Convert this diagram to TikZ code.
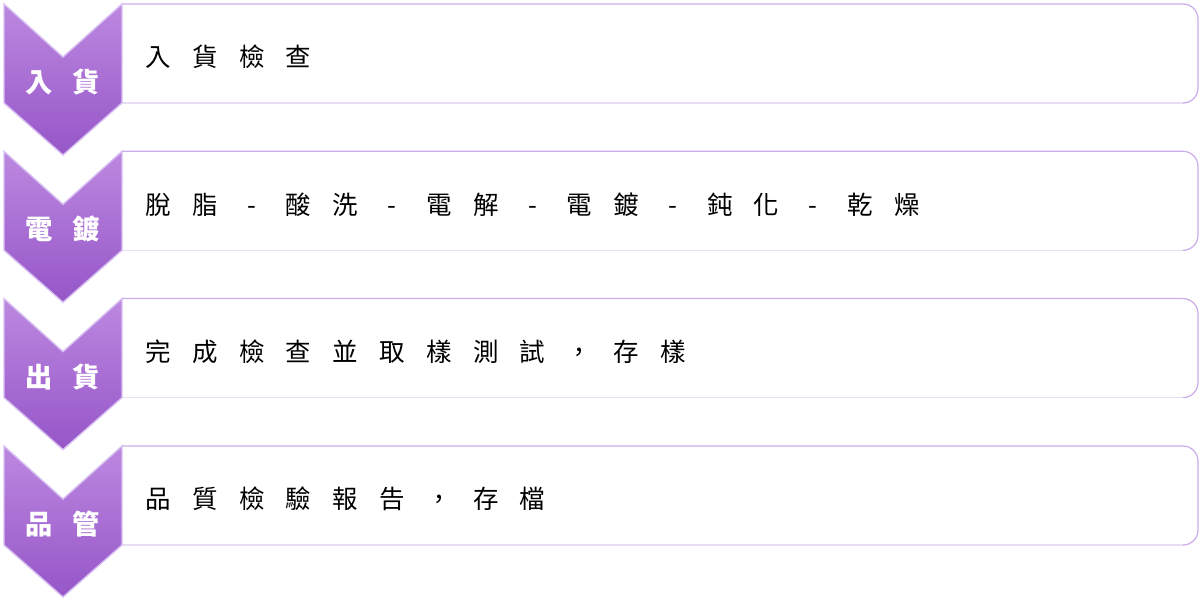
\documentclass[tikz,border=0pt]{standalone}
\usepackage{fontspec}
\usepackage{xcolor}
\usepackage{tikz}
\usetikzlibrary{positioning}
\newfontfamily\cjk{Noto Sans CJK TC}
\definecolor{chevrontop}{RGB}{188,136,224}
\definecolor{chevronbottom}{RGB}{150,86,200}
\definecolor{chevronedge}{RGB}{216,192,242}
\definecolor{panelline}{RGB}{204,172,234}
\definecolor{panelfaint}{RGB}{232,222,244}

% one character per cell, fixed pitch
\newcommand{\cellrow}[1]{\foreach \ch in {#1}{\makebox[0.936cm][c]{\ch}}}

\begin{document}
\begin{tikzpicture}[x=0.02cm, y=-0.02cm,
    chevron/.style={top color=chevrontop, bottom color=chevronbottom, draw=chevronedge, line width=0.8pt},
    panel/.style={draw=panelline, line width=0.7pt, rounded corners=0.3cm},
    panelbase/.style={draw=panelfaint, line width=0.7pt},
    steplabel/.style={white, inner sep=0pt, font=\cjk\bfseries\fontsize{15.5pt}{18pt}\selectfont},
    steptext/.style={black, inner sep=0pt, anchor=west, font=\cjk\fontsize{14.5pt}{17pt}\selectfont}]
    
    % Page frame
    \useasboundingbox (0,0) rectangle (1200,600);
    
    % Row 1: incoming goods
    \draw[panelbase] (122,103) -- (1184,103);
    \draw[panel] (122,4) -- (1198,4) -- (1198,103) -- (1183,103);
    \path[chevron] (4,4) -- (63,57) -- (122,4) -- (122,103) -- (63,155) -- (4,103) -- cycle;
    \node[steplabel] (label1) at (63,82) {\cellrow{入,貨}};
    \node[steptext] (text1) at (134.6,57) {\cellrow{入,貨,檢,查}};
    
    % Row 2: plating
    \draw[panelbase] (122,250.3) -- (1184,250.3);
    \draw[panel] (122,151.3) -- (1198,151.3) -- (1198,250.3) -- (1183,250.3);
    \path[chevron] (4,151.3) -- (63,204.3) -- (122,151.3) -- (122,250.3) -- (63,302.3) -- (4,250.3) -- cycle;
    \node[steplabel] (label2) at (63,229.3) {\cellrow{電,鍍}};
    \node[steptext] (text2) at (134.6,204.3) {\cellrow{脫,脂,-,酸,洗,-,電,解,-,電,鍍,-,鈍,化,-,乾,燥}};
    
    % Row 3: shipping
    \draw[panelbase] (122,397.6) -- (1184,397.6);
    \draw[panel] (122,298.6) -- (1198,298.6) -- (1198,397.6) -- (1183,397.6);
    \path[chevron] (4,298.6) -- (63,351.6) -- (122,298.6) -- (122,397.6) -- (63,449.6) -- (4,397.6) -- cycle;
    \node[steplabel] (label3) at (63,376.6) {\cellrow{出,貨}};
    \node[steptext] (text3) at (134.6,351.6) {\cellrow{完,成,檢,查,並,取,樣,測,試,，,存,樣}};
    
    % Row 4: quality control
    \draw[panelbase] (122,545) -- (1184,545);
    \draw[panel] (122,446) -- (1198,446) -- (1198,545) -- (1183,545);
    \path[chevron] (4,446) -- (63,499) -- (122,446) -- (122,545) -- (63,597) -- (4,545) -- cycle;
    \node[steplabel] (label4) at (63,524) {\cellrow{品,管}};
    \node[steptext] (text4) at (134.6,499) {\cellrow{品,質,檢,驗,報,告,，,存,檔}};
\end{tikzpicture}
\end{document}
